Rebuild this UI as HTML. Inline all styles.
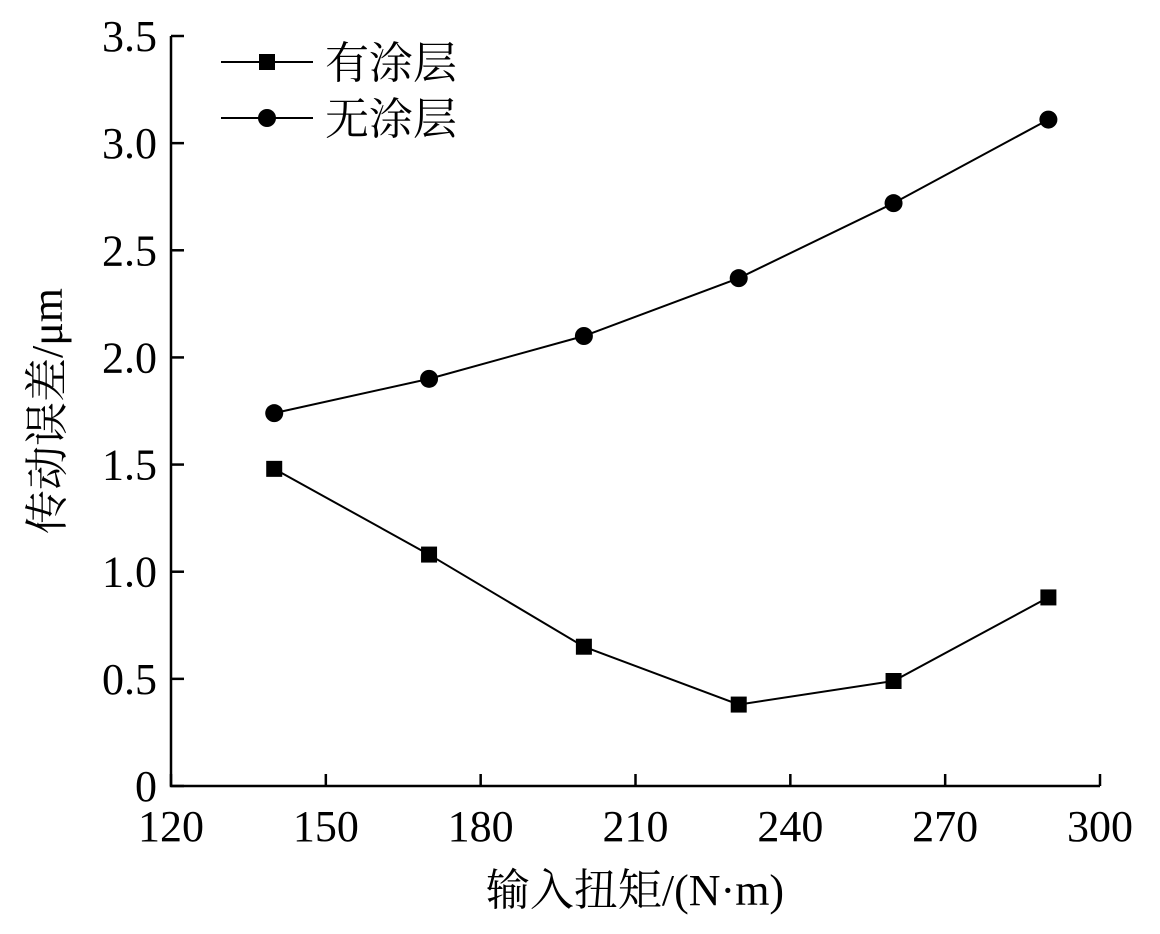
<!DOCTYPE html>
<html><head><meta charset="utf-8"><style>body{margin:0;background:#fff}svg text{font-family:"Liberation Serif","Noto Serif CJK SC",serif;fill:#000}</style></head>
<body>
<svg id="c" width="1160" height="929"></svg>
<script>
const xCats=[140,170,200,230,260,290];
const coated=[1.48,1.08,0.65,0.38,0.49,0.88];
const uncoated=[1.74,1.90,2.10,2.37,2.72,3.11];
const xTicks=[120,150,180,210,240,270,300];
const yTicks=[0,0.5,1.0,1.5,2.0,2.5,3.0,3.5];
const yLabels=["0","0.5","1.0","1.5","2.0","2.5","3.0","3.5"];
const X0=171,X1=1100,Y0=786,Y1=36;
const sx=v=>X0+(v-120)/180*(X1-X0);
const sy=v=>Y0-v/3.5*(Y0-Y1);
const svg=document.getElementById('c');
const NS='http://www.w3.org/2000/svg';
function mk(t,a,p){const e=document.createElementNS(NS,t);for(const k in a)e.setAttribute(k,a[k]);(p||svg).appendChild(e);return e;}
let ax=mk('path',{d:`M${X0},${Y1}V${Y0}H${X1}`,stroke:'#000','stroke-width':2.5,fill:'none'});


xTicks.forEach(t=>{
 const l=mk('line',{x1:sx(t),x2:sx(t),y1:Y0,y2:Y0-12,stroke:'#000','stroke-width':2.5});
 
 
 const tx=mk('text',{x:sx(t),y:Y0+55,'text-anchor':'middle','font-size':44});
 tx.textContent=t;
 
 
});
yTicks.forEach((t,i)=>{
 const l=mk('line',{x1:X0,x2:X0+13,y1:sy(t),y2:sy(t),stroke:'#000','stroke-width':2.5});
 
 
 const tx=mk('text',{x:X0-14,y:sy(t)+15,'text-anchor':'end','font-size':44});
 tx.textContent=yLabels[i];
 
 
});
function series(vals,shape,name){
 const g=mk('g',{});
 
 
 mk('polyline',{points:vals.map((v,i)=>sx(xCats[i])+','+sy(v)).join(' '),fill:'none',stroke:'#000','stroke-width':2},g);
 vals.forEach((v,i)=>{
  let m;
  if(shape==='sq')m=mk('rect',{x:sx(xCats[i])-8,y:sy(v)-8,width:16,height:16,fill:'#000'},g);
  else m=mk('circle',{cx:sx(xCats[i]),cy:sy(v),r:9,fill:'#000'},g);
  
  
 });
}
series(coated,'sq','coated-series');
series(uncoated,'ci','uncoated-series');
[['sq','有涂层',62],['ci','无涂层',118]].forEach(([s,lab,y])=>{
 const g=mk('g',{});
 
 
 mk('line',{x1:221,x2:313,y1:y,y2:y,stroke:'#000','stroke-width':2},g);
 if(s==='sq')mk('rect',{x:259,y:y-8,width:16,height:16,fill:'#000'},g);
 else mk('circle',{cx:267,cy:y,r:9,fill:'#000'},g);
 const t=mk('text',{x:325,y:y+16,'font-size':44},g);t.textContent=lab;
});
const xt=mk('text',{x:635,y:905,'text-anchor':'middle','font-size':44});
xt.textContent='输入扭矩/(N·m)';


const yt=mk('text',{x:0,y:0,'text-anchor':'middle','font-size':44,transform:'translate(62,411) rotate(-90)'});
yt.textContent='传动误差/μm';


</script>
</body></html>
